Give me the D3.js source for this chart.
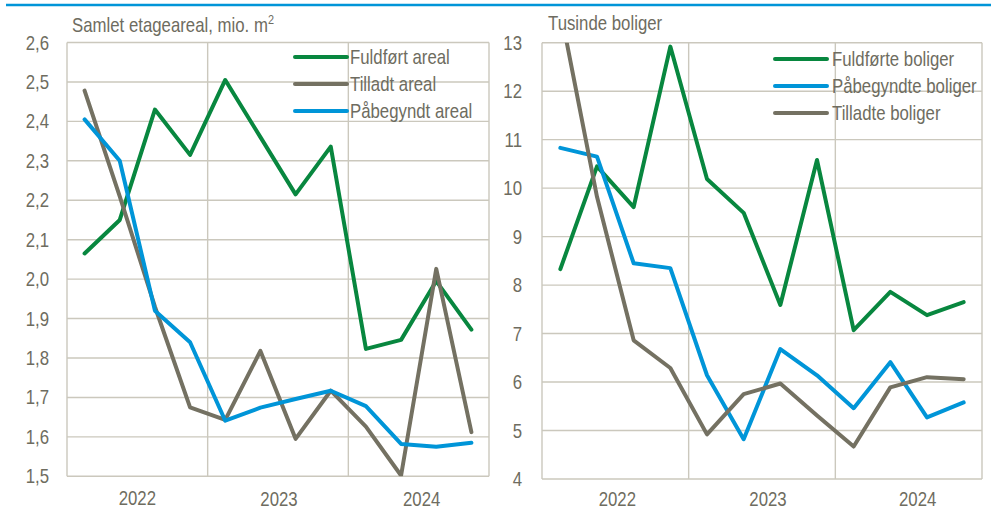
<!DOCTYPE html>
<html>
<head>
<meta charset="utf-8">
<script src="https://cdn.jsdelivr.net/npm/d3@7"></script>
<style>
  body { margin: 0; background: #fff; }
  svg text { font-family: "Liberation Sans", Arial, sans-serif; fill: #6e6c60; font-size: 20px; }
</style>
</head>
<body>
<svg id="chart" width="991" height="509"></svg>
<script>
// years shown on the x axis, 4 quarters each
const years = ['2022', '2023', '2024'];

// left panel: floor area, mio. m2
const areaTicks = [1.5, 1.6, 1.7, 1.8, 1.9, 2.0, 2.1, 2.2, 2.3, 2.4, 2.5, 2.6];
const fuldfortAreal = [2.065, 2.15, 2.43, 2.315, 2.505, 2.36, 2.215, 2.336, 1.823, 1.846, 1.995, 1.872];
const tilladtAreal  = [2.478, 2.21, 1.93, 1.675, 1.643, 1.818, 1.595, 1.717, 1.626, 1.502, 2.026, 1.612];
const pabegyndtAreal = [2.405, 2.30, 1.92, 1.84, 1.641, 1.674, 1.696, 1.717, 1.678, 1.582, 1.575, 1.585];

// right panel: thousand dwellings
const boligTicks = [4, 5, 6, 7, 8, 9, 10, 11, 12, 13];
const fuldforteBoliger = [8.33, 10.45, 9.61, 12.92, 10.19, 9.49, 7.59, 10.58, 7.07, 7.86, 7.38, 7.65];
const pabegyndteBoliger = [10.83, 10.65, 8.45, 8.35, 6.14, 4.82, 6.68, 6.14, 5.46, 6.41, 5.27, 5.58];
const tilladteBoliger = [13.68, 9.82, 6.86, 6.29, 4.92, 5.75, 5.97, 5.31, 4.67, 5.89, 6.10, 6.06];

const green = '#08873f', grey = '#747162', blue = '#0095d8';
const gridColor = '#cbc8bd';
const narrow = 0.84; // no Arial Narrow here, squeeze Liberation Sans instead

const svg = d3.select('#chart');

// place a condensed text at (x, y)
function ntext(sel, x, y) {
  return sel.attr('transform', `translate(${x},${y}) scale(${narrow},1)`);
}

// blue rule across the top
svg.append('line')
  .attr('x1', 6).attr('x2', 991).attr('y1', 5).attr('y2', 5)
  .attr('stroke', blue).attr('stroke-width', 2.5);

function panel(opts) {
  const g = svg.append('g');
  const x = d3.scaleLinear().domain([0, 12]).range([opts.left, opts.right]);
  const y = d3.scaleLinear().domain(opts.domain).range([opts.bottom, opts.top]);

  // horizontal grid
  g.selectAll('.hgrid').data(opts.ticks).enter().append('line')
    .attr('x1', opts.left).attr('x2', opts.right)
    .attr('y1', d => y(d)).attr('y2', d => y(d))
    .attr('stroke', gridColor).attr('stroke-width', 1.4);

  // vertical grid at year boundaries
  g.selectAll('.vgrid').data([0, 4, 8, 12]).enter().append('line')
    .attr('x1', d => x(d)).attr('x2', d => x(d))
    .attr('y1', opts.top).attr('y2', opts.bottom)
    .attr('stroke', gridColor).attr('stroke-width', 1.4);

  // y tick labels
  opts.ticks.forEach(d => {
    ntext(g.append('text'), opts.labelX, y(d) + 7)
      .attr('text-anchor', 'end')
      .text(opts.fmt(d));
  });

  // year labels
  years.forEach((d, i) => {
    ntext(g.append('text'), x(i * 4 + 2) + opts.yearShift[i], opts.yearY[i])
      .attr('text-anchor', 'middle')
      .text(d);
  });

  // title
  const t = ntext(g.append('text'), opts.titleX, opts.titleY).text(opts.title);
  if (opts.sup) {
    t.append('tspan').attr('dy', -8).style('font-size', '13px').text(opts.sup);
  }

  const clipId = 'clip' + opts.left;
  g.append('clipPath').attr('id', clipId).append('rect')
    .attr('x', opts.left).attr('y', opts.top)
    .attr('width', opts.right - opts.left).attr('height', opts.bottom - opts.top);

  const line = d3.line()
    .x((d, i) => x(i + 0.5))
    .y(d => y(d));

  opts.series.forEach(s => {
    g.append('path')
      .datum(s.values)
      .attr('clip-path', `url(#${clipId})`)
      .attr('d', line)
      .attr('fill', 'none')
      .attr('stroke', s.color)
      .attr('stroke-width', 4)
      .attr('stroke-linejoin', 'round')
      .attr('stroke-linecap', 'round');
  });

  // legend
  opts.series.forEach((s, i) => {
    const ly = opts.legendY + i * 27;
    g.append('line')
      .attr('x1', opts.legendX).attr('x2', opts.legendX + 52)
      .attr('y1', ly).attr('y2', ly)
      .attr('stroke', s.color).attr('stroke-width', 4)
      .attr('stroke-linecap', 'round');
    ntext(g.append('text'), opts.legendX + 55 + opts.legendGap, ly + 7)
      .text(s.name);
  });
}

const comma1 = d => d3.format('.1f')(d).replace('.', ',');

panel({
  left: 67, right: 489, top: 42.5, bottom: 476.3,
  domain: [1.5, 2.6], ticks: areaTicks, fmt: comma1, labelX: 49,
  yearShift: [0, 1, 3], yearY: [505, 505.5, 506],
  title: 'Samlet etageareal, mio. m', sup: '2', titleX: 72, titleY: 32,
  legendX: 295, legendY: 57, legendGap: 0,
  series: [
    { name: 'Fuldført areal', values: fuldfortAreal, color: green },
    { name: 'Tilladt areal', values: tilladtAreal, color: grey },
    { name: 'Påbegyndt areal', values: pabegyndtAreal, color: blue }
  ]
});

panel({
  left: 542, right: 982, top: 42.7, bottom: 479,
  domain: [4, 13], ticks: boligTicks, fmt: d => String(d), labelX: 522,
  yearShift: [2, 6, 9], yearY: [505.5, 505.5, 505.5],
  title: 'Tusinde boliger', sup: null, titleX: 548, titleY: 30,
  legendX: 775, legendY: 59, legendGap: 2,
  series: [
    { name: 'Fuldførte boliger', values: fuldforteBoliger, color: green },
    { name: 'Påbegyndte boliger', values: pabegyndteBoliger, color: blue },
    { name: 'Tilladte boliger', values: tilladteBoliger, color: grey }
  ]
});
</script>
</body>
</html>
